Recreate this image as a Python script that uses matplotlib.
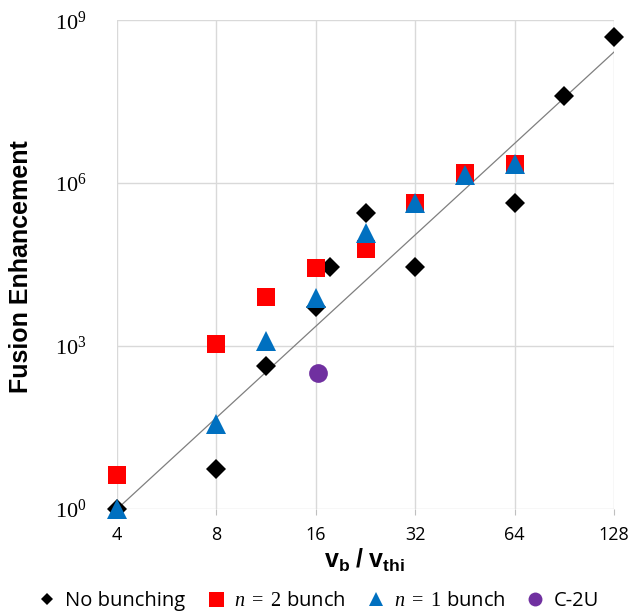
import matplotlib
matplotlib.use('Agg')
from matplotlib import pyplot as plt
from matplotlib.ticker import FixedLocator, NullLocator
import numpy as np

plt.rcParams['mathtext.fontset'] = 'custom'
plt.rcParams['mathtext.rm'] = 'Liberation Serif'
plt.rcParams['mathtext.it'] = 'Liberation Serif:italic'
plt.rcParams['mathtext.bf'] = 'Liberation Sans:bold'
plt.rcParams['font.family'] = ['Open Sans', 'DejaVu Sans']

# No bunching
nb_x = [4, 8, 11.31, 16, 17.7, 22.63, 32, 64, 90.51, 128]
nb_y = [1, 5.4, 430, 5200, 28400, 2.8e5, 28400, 4.3e5, 4.0e7, 4.9e8]
# n = 2 bunch
n2_x = [4, 8, 11.31, 16, 22.63, 32, 45.25, 64]
n2_y = [4.2, 1090, 8000, 27300, 61000, 4.3e5, 1.53e6, 2.3e6]
# n = 1 bunch
n1_x = [4, 8, 11.31, 16, 22.63, 32, 45.25, 64]
n1_y = [1, 37, 1240, 7650, 1.2e5, 4.3e5, 1.4e6, 2.3e6]
# C-2U
c2u_x = [16.25]
c2u_y = [318]
# trend line
fit_x = [4, 128]
fit_y = [1, 2.6e8]

xticks = [4, 8, 16, 32, 64, 128]
yticks = [1, 1e3, 1e6, 1e9]
ylabels = [r'$10^0$', r'$10^3$', r'$10^6$', r'$10^9$']

fig = plt.figure(figsize=(6.33, 6.14), dpi=100)
ax = fig.add_axes([0.185, 0.171, 0.785, 0.796])
ax.set_xscale('log', base=2)
ax.set_yscale('log')
ax.set_xlim(4, 128)
ax.set_ylim(1, 1e9)

ax.plot(fit_x, fit_y, c='#7f7f7f', lw=0.9, zorder=2)
ax.plot(nb_x, nb_y, 'D', c='black', ms=9.8, mew=0, label='No bunching', zorder=3, clip_on=False)
ax.plot(n2_x, n2_y, 's', c='#ff0000', ms=13.5, mew=0, label=r'$n\ =\ 2$ bunch', zorder=4, clip_on=False)
ax.plot(n1_x, n1_y, '^', c='#0070c0', ms=14, mew=0, label=r'$n\ =\ 1$ bunch', zorder=5, clip_on=False)
ax.plot(c2u_x, c2u_y, 'o', c='#7030a0', ms=13.5, mew=0, label='C-2U', zorder=5)

ax.xaxis.set_major_locator(FixedLocator(xticks))
ax.xaxis.set_minor_locator(NullLocator())
ax.set_xticklabels([str(t) for t in xticks], fontsize=13)
ax.yaxis.set_major_locator(FixedLocator(yticks))
ax.yaxis.set_minor_locator(NullLocator())
ax.set_yticklabels(ylabels, fontsize=16)
ax.tick_params(axis='y', length=0, pad=22)
ax.tick_params(axis='x', length=4, color='#bfbfbf', pad=8)

ax.grid(True, color='#d9d9d9', lw=1)
ax.set_axisbelow(True)
for s in ax.spines.values():
    s.set_visible(False)

fig.text(21 / 633, 0.566, 'Fusion Enhancement', rotation=90, ha='center', va='center',
         fontsize=18, fontweight='bold', family='Liberation Sans')
fig.text(364 / 633, 0.075, r'$\mathbf{v_b}\ \mathbf{/}\ \mathbf{v_{thi}}$', ha='center', va='baseline',
         fontsize=18)

leg = fig.legend(loc='center', bbox_to_anchor=(0.504, 0.021), ncol=4, frameon=False, fontsize=14.5,
                 handlelength=0.8, handletextpad=0.5, columnspacing=1.1)
for h, ms in zip(leg.legend_handles, [6.2, 10.8, 10, 10]):
    h.set_markersize(ms)

plt.savefig('out.png', dpi=100)
